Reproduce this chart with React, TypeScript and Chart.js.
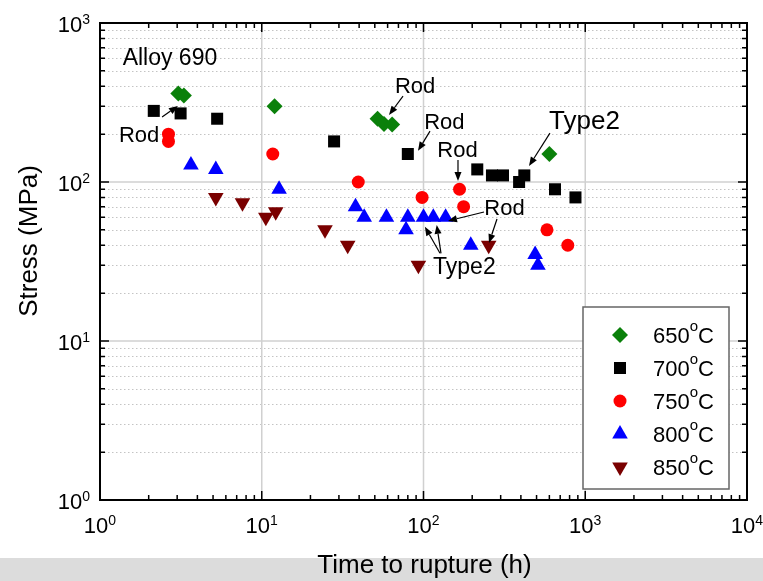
import React, { useEffect, useRef } from 'react';
import { Chart, registerables } from 'chart.js';
import { drawPoint } from 'chart.js/helpers';
Chart.register(...registerables);

// ---- data (time to rupture h, stress MPa) ----
const t650 = [3.05, 3.3, 12, 52, 57, 64, 600];
const s650 = [360, 350, 300, 250, 232, 230, 150];

const t700 = [2.15, 3.15, 5.3, 28, 80, 215, 265, 310, 390, 420, 650, 870];
const s700 = [280, 270, 250, 180, 150, 120, 110, 110, 100, 110, 90, 80];

const t750 = [2.65, 2.65, 11.7, 39.5, 98, 167, 177, 580, 780];
const s750 = [200, 180, 150, 100, 80, 90, 70, 50, 40];

const t800 = [3.65, 5.2, 12.8, 38, 43, 59, 80, 78, 100, 115, 137, 196, 490, 510];
const s800 = [128, 120, 90, 70, 60, 60, 60, 50, 60, 60, 60, 40, 35, 30];

const t850 = [5.2, 7.6, 10.6, 12.2, 24.6, 34, 93, 253];
const s850 = [80, 74, 60, 65, 50, 40, 30, 40];

const seriesNames = ['650', '700', '750', '800', '850'];
const seriesColors = ['#0a800a', '#000000', '#ff0000', '#0000ff', '#7a0000'];
const seriesStyles = ['rectRot', 'rect', 'circle', 'triangle', 'triangle'];
const seriesRadius = [8, 8.5, 6.5, 9, 9];
const seriesRotation = [0, 0, 0, 0, 180];

const xTickExps = [0, 1, 2, 3, 4];
const yTickExps = [0, 1, 2, 3];

// annotations (data coordinates)
const noteTexts = ['Alloy 690', 'Rod', 'Rod', 'Rod', 'Rod', 'Type2', 'Rod', 'Type2'];
const noteX = [1.38, 1.31, 66.6, 101, 121.7, 597, 237.7, 114.5];
const noteY = [544, 179, 361, 215, 143, 215, 62, 26.2];
const noteSize = [23, 22, 22, 22, 22, 26, 22, 23];

const arrowFromX = [2.42, 74.7, 109.7, 163.4, 605, 236.6, 284.7, 126.5, 128.3];
const arrowFromY = [256, 347, 209, 137.5, 203, 64.8, 58.5, 35.6, 35.6];
const arrowToX = [3.03, 61.2, 92.5, 163.4, 449, 141.7, 254, 102, 120.7];
const arrowToY = [301, 264, 157, 101.4, 126, 56.9, 41.3, 52.4, 53.7];

const FONT = "'Liberation Sans', Arial, Helvetica, sans-serif";
const W = 763;
const H = 581;

function supText(ctx: CanvasRenderingContext2D, base: string, sup: string, x: number, y: number,
  align: 'center' | 'right' | 'left', bs: number, ss: number, raise: number, tail?: string) {
  ctx.textAlign = 'left';
  ctx.textBaseline = 'alphabetic';
  ctx.font = `${bs}px ${FONT}`;
  const wb = ctx.measureText(base).width;
  const wt = tail ? ctx.measureText(tail).width : 0;
  ctx.font = `${ss}px ${FONT}`;
  const ws = ctx.measureText(sup).width;
  const total = wb + ws + wt;
  let sx = x;
  if (align === 'center') sx = x - total / 2;
  else if (align === 'right') sx = x - total;
  ctx.font = `${bs}px ${FONT}`;
  ctx.fillText(base, sx, y);
  ctx.font = `${ss}px ${FONT}`;
  ctx.fillText(sup, sx + wb, y - raise);
  if (tail) {
    ctx.font = `${bs}px ${FONT}`;
    ctx.fillText(tail, sx + wb + ws, y);
  }
}

function arrow(ctx: CanvasRenderingContext2D, x1: number, y1: number, x2: number, y2: number) {
  const ang = Math.atan2(y2 - y1, x2 - x1);
  const hl = 9, hw = 3.5;
  const bx = x2 - Math.cos(ang) * hl;
  const by = y2 - Math.sin(ang) * hl;
  ctx.beginPath();
  ctx.moveTo(x1, y1);
  ctx.lineTo(bx, by);
  ctx.stroke();
  ctx.beginPath();
  ctx.moveTo(x2, y2);
  ctx.lineTo(bx + Math.sin(ang) * hw, by - Math.cos(ang) * hw);
  ctx.lineTo(bx - Math.sin(ang) * hw, by + Math.cos(ang) * hw);
  ctx.closePath();
  ctx.fill();
}

const framePlugin = {
  id: 'frame',
  beforeDraw(chart: any) {
    const ctx = chart.ctx as CanvasRenderingContext2D;
    ctx.save();
    ctx.fillStyle = '#ffffff';
    ctx.fillRect(0, 0, W, H);
    ctx.fillStyle = '#dcdcdc';
    ctx.fillRect(0, 558, W, H - 558);
    ctx.restore();
  },
  beforeDatasetsDraw(chart: any) {
    const ctx = chart.ctx as CanvasRenderingContext2D;
    const a = chart.chartArea;
    const xs = chart.scales.x, ys = chart.scales.y;
    ctx.save();
    ctx.strokeStyle = '#c4c4c4';
    ctx.lineWidth = 1;
    ctx.setLineDash([1.5, 2.5]);
    for (const d of [1, 10, 100]) {
      for (let m = 2; m <= 9; m++) {
        const py = Math.round(ys.getPixelForValue(d * m)) + 0.5;
        ctx.beginPath();
        ctx.moveTo(a.left, py);
        ctx.lineTo(a.right, py);
        ctx.stroke();
      }
    }
    ctx.setLineDash([]);
    ctx.strokeStyle = '#d0d0d0';
    ctx.lineWidth = 1.5;
    for (const v of [10, 100, 1000]) {
      const px = xs.getPixelForValue(v);
      ctx.beginPath();
      ctx.moveTo(px, a.top);
      ctx.lineTo(px, a.bottom);
      ctx.stroke();
    }
    for (const v of [10, 100]) {
      const py = ys.getPixelForValue(v);
      ctx.beginPath();
      ctx.moveTo(a.left, py);
      ctx.lineTo(a.right, py);
      ctx.stroke();
    }
    ctx.restore();
  },
  afterDraw(chart: any) {
    const ctx = chart.ctx as CanvasRenderingContext2D;
    const a = chart.chartArea;
    const xs = chart.scales.x, ys = chart.scales.y;
    ctx.save();
    // ticks
    ctx.strokeStyle = '#000';
    ctx.lineWidth = 1.5;
    for (let k = 0; k <= 4; k++) {
      for (let m = 1; m <= 9; m++) {
        if (k === 4 && m > 1) break;
        const v = m * Math.pow(10, k);
        const px = xs.getPixelForValue(v);
        const len = m === 1 ? 9 : 5;
        ctx.beginPath();
        ctx.moveTo(px, a.bottom);
        ctx.lineTo(px, a.bottom - len);
        ctx.moveTo(px, a.top);
        ctx.lineTo(px, a.top + len);
        ctx.stroke();
      }
    }
    for (let k = 0; k <= 3; k++) {
      for (let m = 1; m <= 9; m++) {
        if (k === 3 && m > 1) break;
        const v = m * Math.pow(10, k);
        const py = ys.getPixelForValue(v);
        const len = m === 1 ? 9 : 5;
        ctx.beginPath();
        ctx.moveTo(a.left, py);
        ctx.lineTo(a.left + len, py);
        ctx.moveTo(a.right, py);
        ctx.lineTo(a.right - len, py);
        ctx.stroke();
      }
    }
    // box
    ctx.lineWidth = 2;
    ctx.strokeRect(a.left, a.top, a.right - a.left, a.bottom - a.top);

    // tick labels
    ctx.fillStyle = '#000';
    for (const k of xTickExps) {
      const px = xs.getPixelForValue(Math.pow(10, k));
      supText(ctx, '10', String(k), px, a.bottom + 33, 'center', 22, 14, 8);
    }
    for (const k of yTickExps) {
      const py = ys.getPixelForValue(Math.pow(10, k));
      supText(ctx, '10', String(k), a.left - 10, py + 9, 'right', 22, 14, 8);
    }

    // axis titles
    ctx.font = `26px ${FONT}`;
    ctx.textAlign = 'center';
    ctx.textBaseline = 'alphabetic';
    ctx.fillText('Time to rupture (h)', (a.left + a.right) / 2 + 1, 573);
    ctx.save();
    ctx.translate(37, 241);
    ctx.rotate(-Math.PI / 2);
    ctx.fillText('Stress (MPa)', 0, 0);
    ctx.restore();

    // annotations
    ctx.textAlign = 'left';
    for (let i = 0; i < noteTexts.length; i++) {
      ctx.font = `${noteSize[i]}px ${FONT}`;
      ctx.fillText(noteTexts[i], xs.getPixelForValue(noteX[i]), ys.getPixelForValue(noteY[i]));
    }
    ctx.strokeStyle = '#000';
    ctx.fillStyle = '#000';
    ctx.lineWidth = 1.2;
    for (let i = 0; i < arrowFromX.length; i++) {
      arrow(ctx,
        xs.getPixelForValue(arrowFromX[i]), ys.getPixelForValue(arrowFromY[i]),
        xs.getPixelForValue(arrowToX[i]), ys.getPixelForValue(arrowToY[i]));
    }

    // legend
    const lw = 146, lh = 182;
    const lx = a.right - 18 - lw;
    const ly = a.bottom - 11 - lh;
    ctx.fillStyle = '#fff';
    ctx.fillRect(lx, ly, lw, lh);
    ctx.strokeStyle = '#666';
    ctx.lineWidth = 1.5;
    ctx.strokeRect(lx, ly, lw, lh);
    for (let i = 0; i < seriesNames.length; i++) {
      const ry = ly + 28 + i * 33;
      ctx.fillStyle = seriesColors[i];
      drawPoint(ctx, {
        pointStyle: seriesStyles[i] as any,
        radius: seriesRadius[i],
        rotation: seriesRotation[i],
        borderWidth: 0,
      } as any, lx + 37, ry);
      ctx.fillStyle = '#000';
      supText(ctx, seriesNames[i], 'o', lx + 70, ry + 8, 'left', 22, 15, 12, 'C');
    }
    ctx.restore();
  },
};

export default function App() {
  const ref = useRef<HTMLCanvasElement | null>(null);
  useEffect(() => {
    if (!ref.current) return;
    const ts = [t650, t700, t750, t800, t850];
    const ss = [s650, s700, s750, s800, s850];
    const datasets = seriesNames.map((n, i) => ({
      label: n + '°C',
      data: ts[i].map((t, j) => ({ x: t, y: ss[i][j] })),
      pointStyle: seriesStyles[i] as any,
      pointRadius: seriesRadius[i],
      pointRotation: seriesRotation[i],
      backgroundColor: seriesColors[i],
      borderColor: seriesColors[i],
      borderWidth: 0,
      showLine: false,
    }));
    const chart = new Chart(ref.current, {
      type: 'scatter',
      data: { datasets },
      options: {
        responsive: false,
        animation: false,
        devicePixelRatio: 1,
        layout: { padding: { left: 100, top: 23, right: 16, bottom: 81 } },
        plugins: { legend: { display: false }, tooltip: { enabled: false } },
        scales: {
          x: { type: 'logarithmic', min: 1, max: 10000, display: false },
          y: { type: 'logarithmic', min: 1, max: 1000, display: false },
        },
      },
      plugins: [framePlugin],
    });
    return () => chart.destroy();
  }, []);
  return (
    <div style={{ position: 'absolute', left: 0, top: 0, width: W, height: H }}>
      <canvas ref={ref} width={W} height={H} style={{ width: W, height: H, display: 'block' }} />
    </div>
  );
}
